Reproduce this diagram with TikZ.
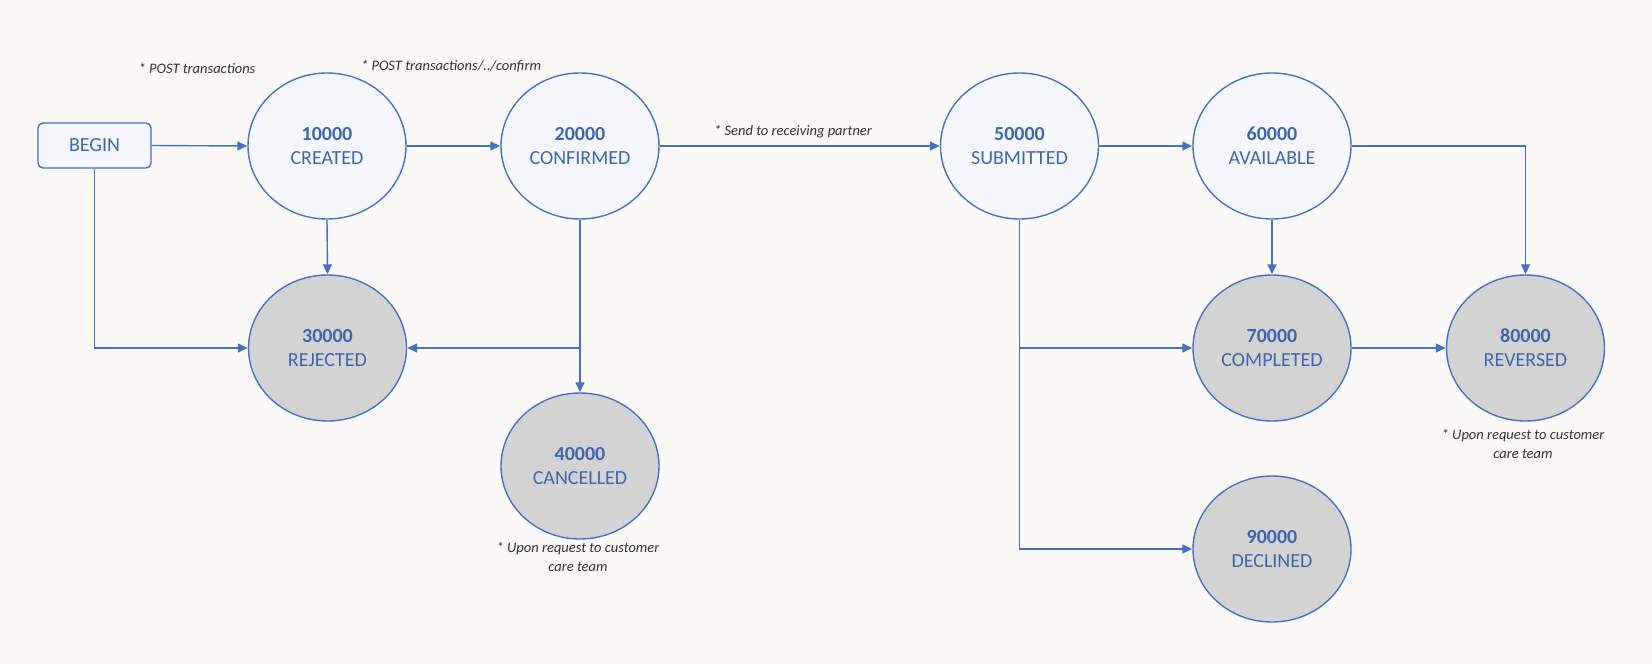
\documentclass[tikz,border=0pt]{standalone}
\usepackage{fontspec}
\setmainfont{Carlito}
\usepackage{tikz}
\usetikzlibrary{positioning,shapes.geometric,arrows.meta}
\definecolor{paper}{HTML}{FAF9F8}
\definecolor{stateblue}{HTML}{4472C4}
\definecolor{textblue}{HTML}{3D66AE}
\definecolor{openfill}{HTML}{F5F7FC}
\definecolor{closedfill}{HTML}{D3D3D3}
\definecolor{notegray}{HTML}{333333}

\begin{document}
\begin{tikzpicture}[x=1pt,y=-1pt,
		state/.style={ellipse,draw=stateblue,line width=1.4pt,fill=openfill,text=textblue,
			minimum width=158pt,minimum height=146pt,inner sep=0pt,align=center,
			font=\fontsize{20}{24}\selectfont},
		endstate/.style={state,fill=closedfill},
		startbox/.style={draw=stateblue,line width=1.4pt,fill=openfill,text=textblue,rounded corners=5pt,
			minimum width=113pt,minimum height=45pt,font=\fontsize{20}{24}\selectfont},
		note/.style={text=notegray,align=center,inner sep=0pt,font=\fontsize{14.5}{19}\selectfont\itshape},
		conn/.style={draw=stateblue,line width=1.4pt,-{Triangle[length=10pt,width=9pt]}}]
	\useasboundingbox[fill=paper] (0,0) rectangle (1652,664);
	% states
	\node[startbox] (begin) at (94.5,145.5) {BEGIN};
	\node[state] (created) at (327,146) {\textbf{10000}\\CREATED};
	\node[state] (confirmed) at (580,146) {\textbf{20000}\\CONFIRMED};
	\node[endstate] (rejected) at (327.5,348) {\textbf{30000}\\REJECTED};
	\node[endstate] (cancelled) at (580,466) {\textbf{40000}\\CANCELLED};
	\node[state] (submitted) at (1019.5,146) {\textbf{50000}\\SUBMITTED};
	\node[state] (available) at (1272,146) {\textbf{60000}\\AVAILABLE};
	\node[endstate] (completed) at (1272,348) {\textbf{70000}\\COMPLETED};
	\node[endstate] (reversed) at (1525.5,348) {\textbf{80000}\\REVERSED};
	\node[endstate] (declined) at (1272,549) {\textbf{90000}\\DECLINED};
	% notes
	\node[note] (postnote) at (197,68) {* POST transactions};
	\node[note] (confirmnote) at (451,66) {* POST transactions/../confirm};
	\node[note] (sendnote) at (793,132) {* Send to receiving partner};
	\node[note] (cancelnote) at (578,557) {* Upon request to customer\\care team};
	\node[note] (reversenote) at (1523,444) {* Upon request to customer\\care team};
	% transitions
	\draw[conn] (begin.east) -- (created.west);
	\draw[conn] (begin.south) |- (rejected.west);
	\draw[conn] (created.east) -- (confirmed.west);
	\draw[conn] (created.south) -- (rejected.north);
	\draw[conn] (confirmed.south) -- (cancelled.north);
	\coordinate (cancelsplit) at (confirmed.south |- rejected.east);
	\draw[conn] (cancelsplit) -- (rejected.east);
	\draw[conn] (confirmed.east) -- (submitted.west);
	\draw[conn] (submitted.east) -- (available.west);
	\draw[conn] (available.south) -- (completed.north);
	\draw[conn] (available.east) -| (reversed.north);
	\draw[conn] (completed.east) -- (reversed.west);
	\draw[conn] (submitted.south) |- (declined.west);
	\coordinate (submitsplit) at (submitted.south |- completed.west);
	\draw[conn] (submitsplit) -- (completed.west);
\end{tikzpicture}
\end{document}
